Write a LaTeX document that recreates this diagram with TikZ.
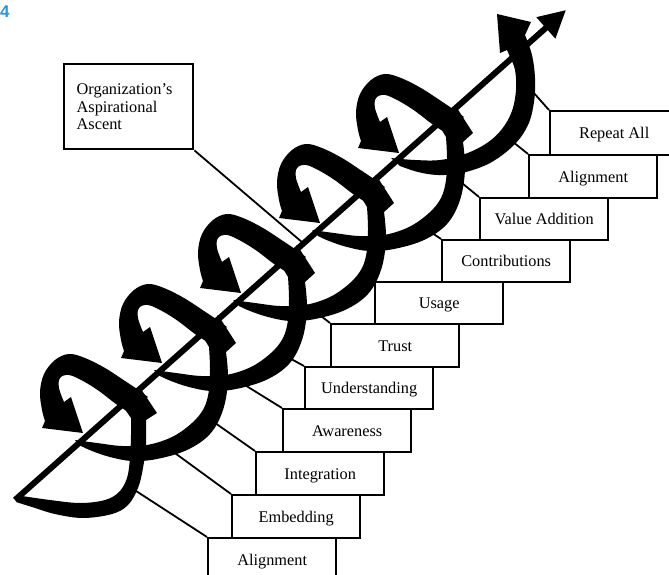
\documentclass[tikz,border=0pt]{standalone}
\usepackage{fontspec}
\setmainfont{Liberation Serif}
\setsansfont{Liberation Sans}
\usetikzlibrary{arrows.meta}
\definecolor{figblue}{RGB}{41,150,220}

\newcommand\helixtop{%
\fill plot[smooth,tension=0.6] coordinates {(306,257) (295,249) (283,241) (263,228) (243,218) (227,214) (213,220) (202,234) (198,252) (200,270) (203,281)}
 -- (200,288) -- (241,293) -- (229,257)
 -- plot[smooth,tension=0.6] coordinates {(222,262) (217,248) (218,238) (227,235) (241,241) (257,251) (274,264) (288,273)} -- cycle;}

\newcommand\helixbot{%
\fill plot[smooth,tension=0.6] coordinates {(233,300) (255,303) (280,306) (305,305) (330,297) (350,283) (362,268) (367,250) (368,228) (367,207)}
 -- (361,197) -- (376,175) -- (394,203)
 -- plot[smooth,tension=0.6] coordinates {(384,212) (386,240) (381,270) (368,294) (345,310) (315,319) (290,321) (268,317) (250,311) (239,306)} -- cycle;}

\begin{document}
\begin{tikzpicture}[x=1pt,y=-1pt,
  stairbox/.style={draw, line width=2.4pt, anchor=north west, minimum width=128pt,
    font=\fontsize{16.3}{18}\selectfont, text height=10.8pt, text depth=0pt, inner sep=0pt},
  leader/.style={line width=1.8pt},
  axisline/.style={line width=6pt, -{Triangle[length=27pt,width=27pt]}}]
\useasboundingbox (0,0) rectangle (669,575);
\clip (0,0) rectangle (669,575);

% figure number
\node[anchor=base west, text=figblue, font=\sffamily\bfseries\fontsize{17}{17}\selectfont, inner sep=0pt] (fignum) at (0,18) {4};

% stair boxes
\node[stairbox, minimum height=43pt] (s1) at (207,537) {Alignment};
\node[stairbox, minimum height=43pt] (s2) at (231,494) {Embedding};
\node[stairbox, minimum height=43pt] (s3) at (255,451) {Integration};
\node[stairbox, minimum height=43pt] (s4) at (282,408) {Awareness};
\node[stairbox, minimum height=42pt] (s5) at (304,366) {Understanding};
\node[stairbox, minimum height=43pt] (s6) at (330,323) {Trust};
\node[stairbox, minimum height=42pt] (s7) at (374,281) {Usage};
\node[stairbox, minimum height=42pt] (s8) at (441,239) {Contributions};
\node[stairbox, minimum height=42pt] (s9) at (479,197) {Value Addition};
\node[stairbox, minimum height=43pt] (s10) at (528,154) {Alignment};
\node[stairbox, minimum height=44pt] (s11) at (549,110) {Repeat All};

% label box
\node[draw, line width=2.4pt, anchor=north west, minimum width=129pt, minimum height=85pt,
  text width=104pt, align=left, inner xsep=12.5pt, inner ysep=0pt,
  font=\fontsize{16.3}{17.6}\selectfont] (org) at (63,63) {Organization’s\\Aspirational\\Ascent};

% leader end points (hidden under the spiral)
\coordinate (l1) at (133,489);
\coordinate (l2) at (168,448);
\coordinate (l3) at (208,418);
\coordinate (l4) at (240,382);
\coordinate (l5) at (282,354);
\coordinate (l6) at (304,303);
\coordinate (l7) at (364,276);
\coordinate (l8) at (420,225);
\coordinate (l9) at (457,179);
\coordinate (l10) at (508,138);
\coordinate (l11) at (533,92);
\coordinate (oend) at (303,243);

\foreach \i in {1,...,11} {\draw[leader] (s\i.north west) -- (l\i);}
\draw[leader] (org.south east) -- (oend);

% spiral
\foreach \k in {-2,...,2} {\begin{scope}[shift={({79*\k},{-70*\k})}] \helixtop \end{scope}}
\foreach \k in {-2,...,1} {\begin{scope}[shift={({79*\k},{-70*\k})}] \helixbot \end{scope}}

% first lower arc
\fill plot[smooth,tension=0.6] coordinates {(22,496) (50,500) (80,503) (105,500) (119,492) (127,478) (130,458) (131,435) (131,418)}
 -- (124,408) -- (139,386) -- (157,413)
 -- plot[smooth,tension=0.6] coordinates {(146,420) (146,445) (143,468) (138,488) (128,505) (112,514) (83,518) (55,514) (32,507) (16,502)} -- cycle;

% last arc with final arrow
\fill plot[smooth,tension=0.6] coordinates {(391,158) (415,160) (440,160) (465,154) (487,143) (502,129) (512,111) (516,90) (515,70) (510,57) (507,50)}
 -- (500,53) -- (497,14) -- (531,22)
 -- plot[smooth,tension=0.6] coordinates {(525,35) (532,55) (535,78) (534,102) (528,125) (514,145) (490,163) (462,173) (438,175) (418,172) (400,166)} -- cycle;

% axis
\coordinate (atail) at (15,500);
\coordinate (ahead) at (566,10);
\draw[axisline] (atail) -- (ahead);
\end{tikzpicture}
\end{document}
